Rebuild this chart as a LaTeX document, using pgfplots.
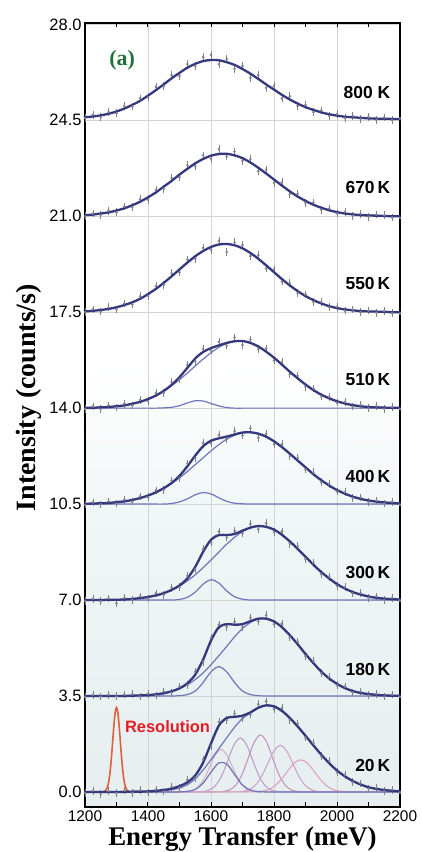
\documentclass[border=0pt]{standalone}
\usepackage{pgfplots}
\pgfplotsset{compat=1.18}
\usepackage{pgfplotstable}
\usepackage{fontspec}
\setmainfont{Liberation Sans}
\newfontfamily\timesfont{Liberation Serif}
\definecolor{fitc}{RGB}{52,56,125}
\definecolor{compc}{RGB}{112,117,188}
\definecolor{datac}{RGB}{128,128,138}
\definecolor{gridc}{RGB}{212,212,212}
\definecolor{bgA}{RGB}{230,238,239}
\definecolor{bgB}{RGB}{241,246,246}
\definecolor{resc}{RGB}{226,95,60}
\definecolor{labred}{RGB}{228,28,36}
\definecolor{labgreen}{RGB}{32,112,62}
\definecolor{pkA}{RGB}{214,176,196}
\definecolor{pkB}{RGB}{188,160,202}
\definecolor{pkC}{RGB}{196,150,190}
\definecolor{pkD}{RGB}{204,166,202}
\definecolor{pkE}{RGB}{222,162,192}
\pgfdeclareverticalshading{bgshade}{100bp}{color(0bp)=(bgA); color(25bp)=(bgA); color(44bp)=(bgB); color(53bp)=(white); color(100bp)=(white)}
\pgfplotsset{
  fitline/.style={fitc, line width=2.3bp, smooth},
  compline/.style={compc, line width=1.2bp, smooth},
  datapts/.style={only marks, mark=*, mark size=1.1bp, datac,
    error bars/.cd, y dir=both, y fixed=0.14, error mark=none,
    error bar style={datac, line width=0.7bp}},
}

% 800 K: x fit data
\pgfplotstableread{
x F D
1200 24.61 24.58
1225 24.64 24.70
1250 24.68 24.62
1275 24.74 24.80
1300 24.82 24.76
1325 24.93 25.02
1350 25.06 25.00
1375 25.21 25.30
1400 25.40 25.33
1425 25.60 25.72
1450 25.81 25.74
1475 26.03 26.15
1500 26.23 26.12
1525 26.42 26.55
1550 26.56 26.48
1575 26.66 26.80
1600 26.70 26.88
1625 26.69 26.55
1650 26.62 26.74
1675 26.52 26.38
1700 26.37 26.48
1725 26.20 26.05
1750 26.01 26.15
1775 25.81 25.68
1800 25.62 25.75
1825 25.43 25.30
1850 25.26 25.38
1875 25.11 25.02
1900 24.98 25.06
1925 24.88 24.80
1950 24.79 24.86
1975 24.72 24.66
2000 24.67 24.72
2025 24.63 24.58
2050 24.61 24.66
2075 24.59 24.55
2100 24.57 24.62
2125 24.56 24.52
2150 24.56 24.60
2175 24.55 24.51
2200 24.55 24.57
}\tEight

% 670 K
\pgfplotstableread{
x F D
1200 21.04 21.00
1225 21.06 21.10
1250 21.10 21.05
1275 21.14 21.20
1300 21.21 21.15
1325 21.29 21.36
1350 21.40 21.33
1375 21.53 21.62
1400 21.69 21.60
1425 21.87 21.96
1450 22.08 22.00
1475 22.29 22.40
1500 22.52 22.42
1525 22.73 22.86
1550 22.93 22.82
1575 23.09 23.22
1600 23.21 23.10
1625 23.27 23.45
1650 23.28 23.18
1675 23.22 23.36
1700 23.12 23.02
1725 22.96 23.08
1750 22.77 22.64
1775 22.56 22.70
1800 22.34 22.22
1825 22.12 22.24
1850 21.91 21.80
1875 21.72 21.82
1900 21.56 21.48
1925 21.42 21.50
1950 21.31 21.24
1975 21.22 21.28
2000 21.15 21.10
2025 21.10 21.16
2050 21.07 21.02
2075 21.04 21.09
2100 21.03 20.98
2125 21.02 21.06
2150 21.01 21.04
2175 21.00 20.96
2200 21.00 20.94
}\tSix

% 550 K
\pgfplotstableread{
x F D
1200 17.53 17.50
1225 17.55 17.60
1250 17.58 17.52
1275 17.62 17.68
1300 17.68 17.60
1325 17.76 17.82
1350 17.86 17.78
1375 17.99 18.08
1400 18.16 18.10
1425 18.35 18.45
1450 18.57 18.50
1475 18.81 18.92
1500 19.06 18.96
1525 19.31 19.42
1550 19.54 19.45
1575 19.73 19.85
1600 19.88 19.78
1625 19.97 20.10
1650 19.99 19.70
1675 19.94 20.05
1700 19.83 19.95
1725 19.66 19.55
1750 19.45 19.58
1775 19.21 19.10
1800 18.96 19.06
1825 18.71 18.62
1850 18.48 18.56
1875 18.27 18.20
1900 18.09 18.15
1925 17.94 17.88
1950 17.82 17.87
1975 17.72 17.68
2000 17.65 17.70
2025 17.60 17.56
2050 17.57 17.60
2075 17.54 17.50
2100 17.53 17.56
2125 17.52 17.48
2150 17.51 17.54
2175 17.50 17.47
2200 17.50 17.45
}\tFive

% 510 K: x fit data main small
\pgfplotstableread{
x F D M S
1200 14.01 13.98 14.01 14.00
1225 14.01 14.06 14.01 14.00
1250 14.03 13.97 14.03 14.00
1275 14.04 14.10 14.04 14.00
1300 14.07 14.02 14.07 14.00
1325 14.10 14.16 14.10 14.00
1350 14.16 14.10 14.16 14.00
1375 14.23 14.30 14.23 14.00
1400 14.33 14.25 14.33 14.00
1425 14.46 14.55 14.46 14.00
1450 14.63 14.56 14.62 14.01
1475 14.85 14.95 14.82 14.03
1500 15.13 15.05 15.04 14.09
1525 15.47 15.58 15.28 14.19
1550 15.81 15.72 15.54 14.27
1575 16.05 16.16 15.79 14.26
1600 16.19 16.10 16.02 14.17
1625 16.29 16.42 16.22 14.08
1650 16.38 16.28 16.36 14.02
1675 16.44 16.58 16.44 14.00
1700 16.45 16.30 16.45 14.00
1725 16.38 16.50 16.38 14.00
1750 16.25 16.15 16.25 14.00
1775 16.06 16.18 16.06 14.00
1800 15.84 15.74 15.84 14.00
1825 15.59 15.68 15.59 14.00
1850 15.33 15.24 15.33 14.00
1875 15.09 15.18 15.09 14.00
1900 14.86 14.78 14.86 14.00
1925 14.66 14.72 14.66 14.00
1950 14.49 14.43 14.49 14.00
1975 14.36 14.41 14.36 14.00
2000 14.25 14.20 14.25 14.00
2025 14.17 14.22 14.17 14.00
2050 14.11 14.06 14.11 14.00
2075 14.07 14.11 14.07 14.00
2100 14.04 14.00 14.04 14.00
2125 14.03 14.07 14.03 14.00
2150 14.02 13.98 14.02 14.00
2175 14.01 14.04 14.01 14.00
2200 14.01 13.97 14.01 14.00
}\tFiveTen

% 400 K
\pgfplotstableread{
x F D M S
1200 10.51 10.48 10.51 10.50
1225 10.52 10.56 10.52 10.50
1250 10.53 10.49 10.53 10.50
1275 10.54 10.60 10.54 10.50
1300 10.57 10.52 10.57 10.50
1325 10.60 10.66 10.60 10.50
1350 10.65 10.59 10.65 10.50
1375 10.72 10.78 10.72 10.50
1400 10.81 10.75 10.81 10.50
1425 10.93 11.00 10.93 10.50
1450 11.08 11.02 11.07 10.50
1475 11.27 11.36 11.25 10.52
1500 11.53 11.45 11.46 10.58
1525 11.88 11.98 11.69 10.69
1550 12.27 12.18 11.94 10.84
1575 12.61 12.72 12.19 10.92
1600 12.81 12.72 12.44 10.87
1625 12.90 13.02 12.67 10.73
1650 12.96 12.88 12.87 10.60
1675 13.04 13.16 13.01 10.53
1700 13.11 13.00 13.10 10.51
1725 13.12 13.26 13.12 10.50
1750 13.07 12.92 13.07 10.50
1775 12.96 13.06 12.96 10.50
1800 12.79 12.68 12.79 10.50
1825 12.58 12.68 12.58 10.50
1850 12.34 12.25 12.34 10.50
1875 12.09 12.18 12.09 10.50
1900 11.84 11.76 11.84 10.50
1925 11.59 11.66 11.59 10.50
1950 11.37 11.30 11.37 10.50
1975 11.18 11.24 11.18 10.50
2000 11.01 10.96 11.01 10.50
2025 10.88 10.93 10.88 10.50
2050 10.77 10.72 10.77 10.50
2075 10.69 10.74 10.69 10.50
2100 10.63 10.58 10.63 10.50
2125 10.59 10.63 10.59 10.50
2150 10.56 10.52 10.56 10.50
2175 10.54 10.58 10.54 10.50
2200 10.52 10.48 10.52 10.50
}\tFour

% 300 K
\pgfplotstableread{
x F D M S
1200 7.00 6.97 7.00 7.00
1225 7.00 7.04 7.00 7.00
1250 7.00 6.96 7.00 7.00
1275 7.01 7.06 7.01 7.00
1300 7.01 6.88 7.01 7.00
1325 7.02 7.08 7.02 7.00
1350 7.04 7.00 7.04 7.00
1375 7.07 7.13 7.07 7.00
1400 7.11 7.06 7.11 7.00
1425 7.17 7.24 7.17 7.00
1450 7.25 7.19 7.25 7.00
1475 7.37 7.45 7.37 7.00
1500 7.53 7.47 7.51 7.02
1525 7.79 7.88 7.70 7.10
1550 8.21 8.12 7.92 7.29
1575 8.76 8.86 8.18 7.58
1600 9.20 9.10 8.46 7.74
1625 9.37 9.50 8.75 7.62
1650 9.37 9.28 9.04 7.33
1675 9.41 9.52 9.29 7.12
1700 9.53 9.44 9.50 7.03
1725 9.64 9.78 9.64 7.00
1750 9.70 9.58 9.70 7.00
1775 9.67 9.80 9.67 7.00
1800 9.57 9.48 9.57 7.00
1825 9.38 9.50 9.38 7.00
1850 9.14 9.05 9.14 7.00
1875 8.87 8.96 8.87 7.00
1900 8.58 8.50 8.58 7.00
1925 8.29 8.36 8.29 7.00
1950 8.02 7.95 8.02 7.00
1975 7.79 7.85 7.79 7.00
2000 7.58 7.52 7.58 7.00
2025 7.42 7.47 7.42 7.00
2050 7.29 7.24 7.29 7.00
2075 7.20 7.25 7.20 7.00
2100 7.13 7.08 7.13 7.00
2125 7.08 7.13 7.08 7.00
2150 7.05 7.00 7.05 7.00
2175 7.03 7.08 7.03 7.00
2200 7.02 6.98 7.02 7.00
}\tThree

% 180 K
\pgfplotstableread{
x F D M S
1200 3.50 3.47 3.50 3.50
1225 3.50 3.53 3.50 3.50
1250 3.50 3.48 3.50 3.50
1275 3.50 3.54 3.50 3.50
1300 3.50 3.49 3.50 3.50
1325 3.50 3.55 3.50 3.50
1350 3.51 3.56 3.51 3.50
1375 3.52 3.48 3.52 3.50
1400 3.53 3.58 3.53 3.50
1425 3.56 3.52 3.56 3.50
1450 3.60 3.66 3.60 3.50
1475 3.67 3.62 3.67 3.50
1500 3.78 3.85 3.77 3.51
1525 3.96 3.90 3.91 3.55
1550 4.28 4.38 4.10 3.68
1575 4.83 4.75 4.34 3.99
1600 5.52 5.62 4.64 4.38
1625 6.01 6.10 4.97 4.57
1650 6.12 6.02 5.31 4.38
1675 6.10 6.20 5.66 3.99
1700 6.12 6.02 5.96 3.68
1725 6.23 6.36 6.18 3.55
1750 6.32 6.22 6.31 3.51
1775 6.32 6.45 6.32 3.50
1800 6.22 6.12 6.22 3.50
1825 6.01 6.14 6.01 3.50
1850 5.72 5.64 5.72 3.50
1875 5.39 5.48 5.39 3.50
1900 5.03 4.96 5.03 3.50
1925 4.70 4.77 4.70 3.50
1950 4.39 4.33 4.39 3.50
1975 4.14 4.19 4.14 3.50
2000 3.94 3.89 3.94 3.50
2025 3.79 3.84 3.79 3.50
2050 3.68 3.63 3.68 3.50
2075 3.61 3.66 3.61 3.50
2100 3.57 3.53 3.57 3.50
2125 3.54 3.58 3.54 3.50
2150 3.52 3.48 3.52 3.50
2175 3.51 3.55 3.51 3.50
2200 3.51 3.47 3.51 3.50
}\tOneEighty

% 20 K
\pgfplotstableread{
x F D M S
1200 0.00 -0.05 0.00 0.00
1225 0.00 0.04 0.00 0.00
1250 0.00 -0.08 0.00 0.00
1275 0.00 0.03 0.00 0.00
1300 0.00 -0.04 0.00 0.00
1325 0.00 0.05 0.00 0.00
1350 0.01 -0.03 0.01 0.00
1375 0.01 0.06 0.01 0.00
1400 0.02 -0.02 0.02 0.00
1425 0.04 0.08 0.03 0.00
1450 0.07 0.02 0.05 0.00
1475 0.12 0.18 0.08 0.00
1500 0.21 0.15 0.14 0.00
1525 0.35 0.44 0.26 0.02
1550 0.60 0.52 0.48 0.09
1575 1.07 1.18 0.80 0.32
1600 1.77 1.68 1.18 0.72
1625 2.42 2.55 1.58 1.06
1650 2.70 2.62 1.98 1.02
1675 2.74 2.86 2.36 0.63
1700 2.78 2.68 2.68 0.25
1725 2.90 2.82 2.88 0.07
1750 3.07 3.20 3.06 0.01
1775 3.16 3.30 3.15 0.00
1800 3.12 3.02 3.10 0.00
1825 2.96 3.06 2.94 0.00
1850 2.70 2.62 2.70 0.00
1875 2.39 2.48 2.39 0.00
1900 2.05 1.98 2.05 0.00
1925 1.70 1.78 1.70 0.00
1950 1.36 1.30 1.36 0.00
1975 1.05 1.12 1.05 0.00
2000 0.78 0.72 0.78 0.00
2025 0.57 0.62 0.57 0.00
2050 0.40 0.35 0.40 0.00
2075 0.27 0.31 0.27 0.00
2100 0.17 0.12 0.17 0.00
2125 0.11 0.15 0.11 0.00
2150 0.07 0.03 0.07 0.00
2175 0.04 0.08 0.04 0.00
2200 0.02 -0.02 0.02 0.00
}\tTwenty

\begin{document}
\begin{tikzpicture}
\begin{axis}[
  scale only axis, width=315bp, height=784bp,
  xmin=1200, xmax=2200, ymin=-0.55, ymax=28.05,
  axis background/.style={shade, shading=bgshade},
  xtick={1200,1400,1600,1800,2000,2200},
  minor xtick={1300,1500,1700,1900,2100},
  ytick={0,3.5,7,10.5,14,17.5,21,24.5,28},
  grid=major, major grid style={gridc, line width=0.9bp},
  tick align=inside, xtick pos=both, ytick pos=left,
  tick style={black, line width=1bp},
  major tick length=4.5bp, minor tick length=4.5bp,
  ytick style={draw=none},
  axis line style={line width=2.2bp, black},
  /pgf/number format/assume math mode=true,
  yticklabel style={font=\fontsize{16.5}{16.5}\selectfont, /pgf/number format/.cd, fixed, fixed zerofill, precision=1},
  xticklabel style={font=\fontsize{15.5}{15.5}\selectfont, /pgf/number format/.cd, 1000 sep={}},
  xlabel={\timesfont\bfseries\fontsize{27}{27}\selectfont Energy Transfer (meV)},
  xlabel style={at={(axis description cs:0.5,0)}, anchor=center, yshift=-32bp},
  ylabel={\timesfont\bfseries\fontsize{28}{28}\selectfont Intensity (counts/s)},
  ylabel style={at={(axis description cs:-0.178,0.522)}, anchor=center},
  clip=true,
]
\coordinate (bl) at (rel axis cs:0,0);
\coordinate (tr) at (rel axis cs:1,1);

% 20 K vibronic components
\addplot[pkA, line width=1.1bp, smooth] coordinates {(1200,0) (1492,0) (1512,0.005) (1532,0.026) (1552,0.113) (1572,0.357) (1592,0.806) (1612,1.316) (1632,1.55) (1652,1.316) (1672,0.806) (1692,0.357) (1712,0.113) (1732,0.026) (1752,0.005) (1772,0) (2200,0)};
\addplot[pkB, line width=1.1bp, smooth] coordinates {(1200,0) (1553,0) (1573,0.013) (1593,0.061) (1613,0.215) (1633,0.565) (1653,1.131) (1673,1.716) (1693,1.97) (1713,1.716) (1733,1.131) (1753,0.565) (1773,0.215) (1793,0.061) (1813,0.013) (1833,0) (2200,0)};
\addplot[pkC, line width=1.1bp, smooth] coordinates {(1200,0) (1617,0) (1637,0.014) (1657,0.064) (1677,0.227) (1697,0.597) (1717,1.194) (1737,1.812) (1757,2.08) (1777,1.812) (1797,1.194) (1817,0.597) (1837,0.227) (1857,0.064) (1877,0.014) (1897,0) (2200,0)};
\addplot[pkD, line width=1.1bp, smooth] coordinates {(1200,0) (1680,0) (1700,0.019) (1720,0.075) (1740,0.230) (1760,0.553) (1780,1.031) (1800,1.500) (1820,1.70) (1840,1.500) (1860,1.031) (1880,0.553) (1900,0.230) (1920,0.075) (1940,0.019) (1960,0) (2200,0)};
\addplot[pkE, line width=1.1bp, smooth] coordinates {(1200,0) (1725,0) (1745,0.009) (1765,0.034) (1785,0.099) (1805,0.241) (1825,0.481) (1845,0.789) (1865,1.060) (1885,1.17) (1905,1.060) (1925,0.789) (1945,0.481) (1965,0.241) (1985,0.099) (2005,0.034) (2025,0.009) (2045,0) (2200,0)};

% resolution
\addplot[resc, line width=1.6bp, smooth] coordinates {(1200,0) (1250,0) (1260,0.012) (1265,0.043) (1270,0.136) (1275,0.351) (1280,0.767) (1285,1.41) (1290,2.18) (1295,2.82) (1300,3.08) (1305,2.82) (1310,2.18) (1315,1.41) (1320,0.767) (1325,0.351) (1330,0.136) (1335,0.043) (1340,0.012) (1350,0) (1420,0)};

% fitted components
\addplot[compline] table[x=x,y=M] {\tFiveTen};
\addplot[compline] table[x=x,y=S] {\tFiveTen};
\addplot[compline] table[x=x,y=M] {\tFour};
\addplot[compline] table[x=x,y=S] {\tFour};
\addplot[compline] table[x=x,y=M] {\tThree};
\addplot[compline] table[x=x,y=S] {\tThree};
\addplot[compline] table[x=x,y=M] {\tOneEighty};
\addplot[compline] table[x=x,y=S] {\tOneEighty};
\addplot[compline] table[x=x,y=M] {\tTwenty};
\addplot[compline] table[x=x,y=S] {\tTwenty};

% data points
\addplot[datapts] table[x=x,y=D] {\tEight};
\addplot[datapts] table[x=x,y=D] {\tSix};
\addplot[datapts] table[x=x,y=D] {\tFive};
\addplot[datapts] table[x=x,y=D] {\tFiveTen};
\addplot[datapts] table[x=x,y=D] {\tFour};
\addplot[datapts] table[x=x,y=D] {\tThree};
\addplot[datapts] table[x=x,y=D] {\tOneEighty};
\addplot[datapts] table[x=x,y=D] {\tTwenty};

% total fits
\addplot[fitline] table[x=x,y=F] {\tEight};
\addplot[fitline] table[x=x,y=F] {\tSix};
\addplot[fitline] table[x=x,y=F] {\tFive};
\addplot[fitline] table[x=x,y=F] {\tFiveTen};
\addplot[fitline] table[x=x,y=F] {\tFour};
\addplot[fitline] table[x=x,y=F] {\tThree};
\addplot[fitline] table[x=x,y=F] {\tOneEighty};
\addplot[fitline] table[x=x,y=F] {\tTwenty};

\begin{scope}[font=\fontsize{17.5}{17.5}\selectfont\bfseries]
\node[anchor=east] at (axis cs:2180,25.5) {800 K};
\node[anchor=east] at (axis cs:2180,22.04) {670\,K};
\node[anchor=east] at (axis cs:2180,18.55) {550\,K};
\node[anchor=east] at (axis cs:2180,15.04) {510\,K};
\node[anchor=east] at (axis cs:2180,11.5) {400\,K};
\node[anchor=east] at (axis cs:2180,8.0) {300\,K};
\node[anchor=east] at (axis cs:2180,4.45) {180\,K};
\node[anchor=east] at (axis cs:2180,0.98) {20\,K};
\end{scope}
\node[anchor=west, text=labred, font=\fontsize{16.5}{16.5}\selectfont\bfseries] at (axis cs:1316,2.37) {Resolution};
\node[text=labgreen, font=\timesfont\bfseries\fontsize{22}{22}\selectfont] at (axis cs:1318,26.7) {(a)};
\end{axis}
\pgfresetboundingbox
\path[use as bounding box] (bl) ++(-85bp,-45bp) rectangle ([shift={(22bp,23bp)}]tr);
\end{tikzpicture}
\end{document}
